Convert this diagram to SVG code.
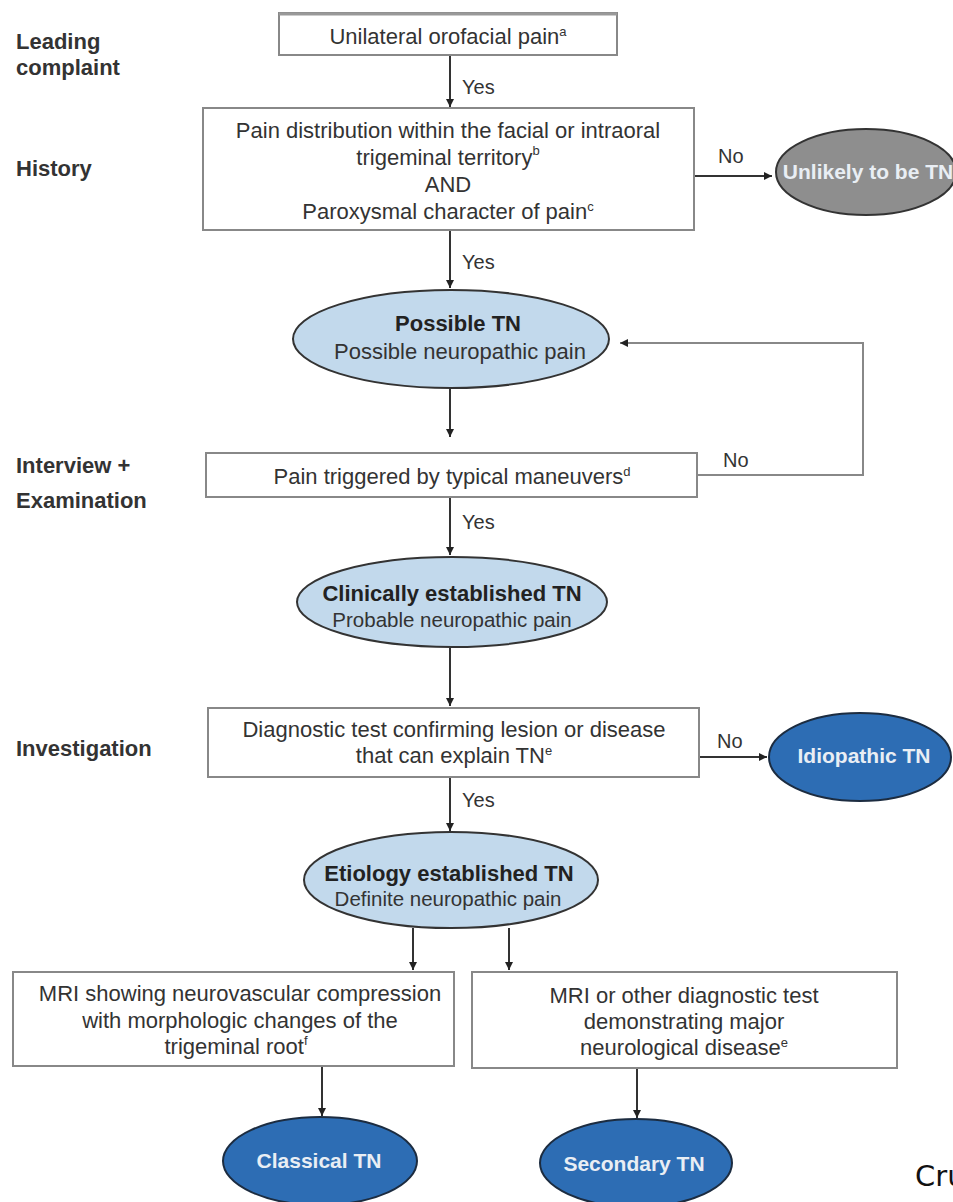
<svg xmlns="http://www.w3.org/2000/svg" width="953" height="1202" viewBox="0 0 953 1202">
<defs>
<marker id="ah" markerWidth="10" markerHeight="10" refX="9" refY="5" orient="auto" markerUnits="userSpaceOnUse">
<path d="M1,1 L9,5 L1,9 Z" fill="#222"/>
</marker>
<style>
.lbl{font-family:"Liberation Sans",Arial,sans-serif;font-size:22px;font-weight:bold;fill:#333}
.box{fill:#fff;stroke:#888;stroke-width:2}
.t{font-family:"Liberation Sans",Arial,sans-serif;font-size:22px;fill:#333;text-anchor:middle}
.ts{font-family:"Liberation Sans",Arial,sans-serif;font-size:20.5px;fill:#333;text-anchor:middle}
.tb{font-family:"Liberation Sans",Arial,sans-serif;font-size:22px;font-weight:bold;fill:#222;text-anchor:middle}
.tw{font-family:"Liberation Sans",Arial,sans-serif;font-size:21px;font-weight:bold;fill:#e9eef4;text-anchor:middle}
.yn{font-family:"Liberation Sans",Arial,sans-serif;font-size:20px;fill:#333}
.lb{fill:#c2d9ec;stroke:#333;stroke-width:2}
.db{fill:#2d6db4;stroke:#1c2c40;stroke-width:2}
.gr{fill:#8e8e8e;stroke:#333;stroke-width:2}
.c{fill:none;stroke:#333;stroke-width:2;marker-end:url(#ah)}
.cl{fill:none;stroke:#888;stroke-width:2;marker-end:url(#ah)}
sup{font-size:13px}
</style>
</defs>
<rect width="953" height="1202" fill="#fff"/>

<g id="stage-labels">
<text class="lbl" x="16" y="49">Leading</text>
<text class="lbl" x="16" y="75">complaint</text>
<text class="lbl" x="16" y="176">History</text>
<text class="lbl" x="16" y="473">Interview +</text>
<text class="lbl" x="16" y="508">Examination</text>
<text class="lbl" x="16" y="756">Investigation</text>
</g>

<g id="connectors">
<path class="c" d="M450,55 V107"/>
<path class="c" d="M694,176 H772"/>
<path class="c" d="M450,230 V288"/>
<path class="c" d="M450,388 V437"/>
<path class="cl" d="M697,475 H863 V343 H620"/>
<path class="c" d="M450,497 V555"/>
<path class="c" d="M450,648 V706"/>
<path class="c" d="M699,757 H767"/>
<path class="c" d="M450,777 V831"/>
<path class="c" d="M413,928 V970"/>
<path class="c" d="M509,928 V970"/>
<path class="c" d="M322,1066 V1116"/>
<path class="c" d="M637,1068 V1118"/>
<text class="yn" x="462" y="94">Yes</text>
<text class="yn" x="718" y="163">No</text>
<text class="yn" x="462" y="269">Yes</text>
<text class="yn" x="723" y="467">No</text>
<text class="yn" x="462" y="529">Yes</text>
<text class="yn" x="717" y="748">No</text>
<text class="yn" x="462" y="807">Yes</text>
</g>

<g id="n-unilateral">
<rect class="box" x="279" y="13" width="338" height="42"/>
<line x1="279" y1="14" x2="617" y2="14" stroke="#999" stroke-width="3"/>
<text class="t" x="448" y="44">Unilateral orofacial pain<tspan font-size="13" dy="-8">a</tspan></text>
</g>

<g id="n-history">
<rect class="box" x="203" y="108" width="491" height="122"/>
<text class="t" x="448" y="138">Pain distribution within the facial or intraoral</text>
<text class="t" x="448" y="165">trigeminal territory<tspan font-size="13" dy="-10">b</tspan></text>
<text class="t" x="448" y="192">AND</text>
<text class="t" x="448" y="219">Paroxysmal character of pain<tspan font-size="13" dy="-8">c</tspan></text>
</g>

<g id="n-unlikely">
<ellipse class="gr" cx="866" cy="172" rx="90" ry="43"/>
<text class="tw" x="868" y="179">Unlikely to be TN</text>
</g>

<g id="n-possible">
<ellipse class="lb" cx="451" cy="339" rx="158" ry="49"/>
<text class="tb" x="458" y="331">Possible TN</text>
<text class="t" x="460" y="359">Possible neuropathic pain</text>
</g>

<g id="n-triggered">
<rect class="box" x="206" y="453" width="491" height="44"/>
<text class="t" x="452" y="484">Pain triggered by typical maneuvers<tspan font-size="13" dy="-8">d</tspan></text>
</g>

<g id="n-clinical">
<ellipse class="lb" cx="452" cy="602" rx="155" ry="45"/>
<text class="tb" x="452" y="601">Clinically established TN</text>
<text class="ts" x="452" y="627">Probable neuropathic pain</text>
</g>

<g id="n-diagnostic">
<rect class="box" x="208" y="708" width="491" height="69"/>
<text class="t" x="454" y="737">Diagnostic test confirming lesion or disease</text>
<text class="t" x="454" y="763">that can explain TN<tspan font-size="13" dy="-8">e</tspan></text>
</g>

<g id="n-idiopathic">
<ellipse class="db" cx="860" cy="757" rx="91" ry="44"/>
<text class="tw" x="864" y="763">Idiopathic TN</text>
</g>

<g id="n-etiology">
<ellipse class="lb" cx="451" cy="880" rx="147" ry="48"/>
<text class="tb" x="449" y="881">Etiology established TN</text>
<text class="ts" x="448" y="906">Definite neuropathic pain</text>
</g>

<g id="n-mri-nvc">
<rect class="box" x="13" y="972" width="441" height="94"/>
<text class="t" x="240" y="1001">MRI showing neurovascular compression</text>
<text class="t" x="240" y="1028">with morphologic changes of the</text>
<text class="t" x="236" y="1054">trigeminal root<tspan font-size="13" dy="-9">f</tspan></text>
</g>

<g id="n-mri-other">
<rect class="box" x="472" y="972" width="425" height="96"/>
<text class="t" x="684" y="1003">MRI or other diagnostic test</text>
<text class="t" x="684" y="1029">demonstrating major</text>
<text class="t" x="684" y="1055">neurological disease<tspan font-size="13" dy="-8">e</tspan></text>
</g>

<g id="n-classical">
<ellipse class="db" cx="320" cy="1161" rx="97" ry="44"/>
<text class="tw" x="319" y="1168">Classical TN</text>
</g>

<g id="n-secondary">
<ellipse class="db" cx="636" cy="1163" rx="96" ry="44"/>
<text class="tw" x="634" y="1171">Secondary TN</text>
</g>

<text x="915" y="1186" font-family="DejaVu Sans, sans-serif" font-size="29" fill="#111">Cru</text>
</svg>
